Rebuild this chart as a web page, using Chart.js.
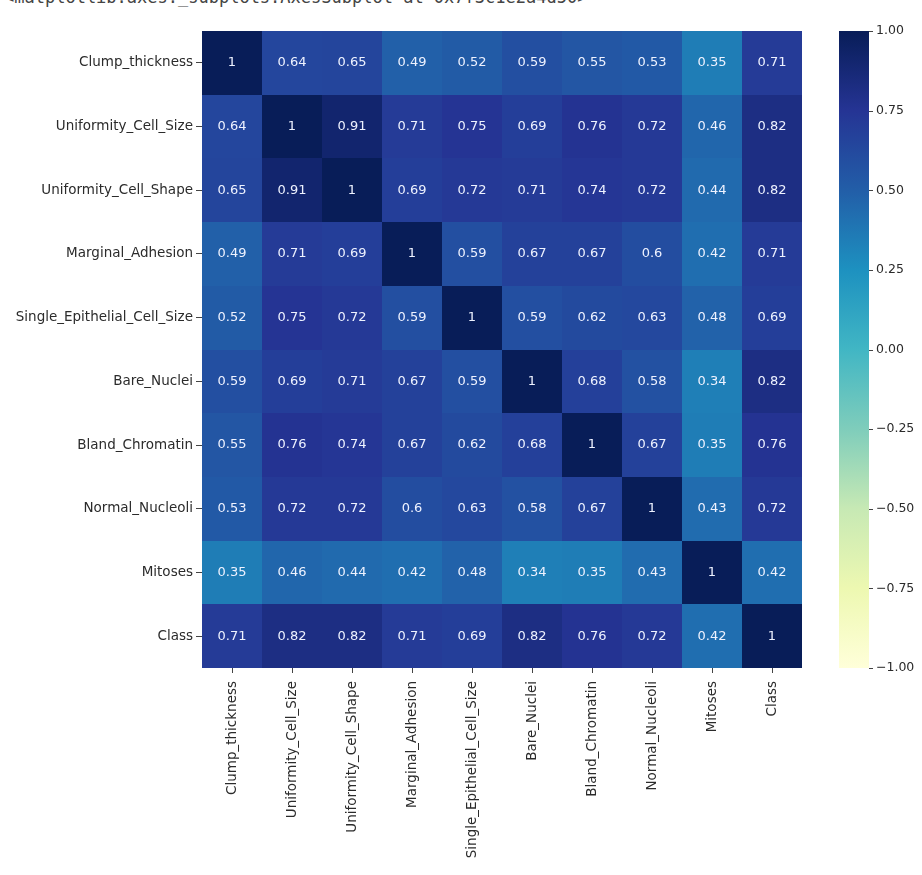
<!DOCTYPE html>
<html>
<head>
<meta charset="utf-8">
<script src="https://cdn.jsdelivr.net/npm/chart.js@4.4.0/dist/chart.umd.min.js"></script>
<style>
  html, body { margin: 0; padding: 0; background: #ffffff; }
  #wrap { position: relative; width: 922px; height: 875px; overflow: hidden; }
  #out {
    position: absolute; left: 4px; top: -13px;
    font: 17px "DejaVu Sans Mono", monospace; color: #444;
    white-space: pre;
  }
  canvas { position: absolute; left: 0; top: 0; }
</style>
</head>
<body>
<div id="wrap">
  <div id="out">&lt;matplotlib.axes._subplots.AxesSubplot at 0x7f3c1e2a4d50&gt;</div>
  <canvas id="heat" width="922" height="875"></canvas>
</div>
<script>
// Feature names (rows and columns of the correlation matrix)
const features = [
  'Clump_thickness', 'Uniformity_Cell_Size', 'Uniformity_Cell_Shape',
  'Marginal_Adhesion', 'Single_Epithelial_Cell_Size', 'Bare_Nuclei',
  'Bland_Chromatin', 'Normal_Nucleoli', 'Mitoses', 'Class'
];

// Pearson correlations, one row per feature
const clumpThickness        = [1, 0.64, 0.65, 0.49, 0.52, 0.59, 0.55, 0.53, 0.35, 0.71];
const uniformityCellSize    = [0.64, 1, 0.91, 0.71, 0.75, 0.69, 0.76, 0.72, 0.46, 0.82];
const uniformityCellShape   = [0.65, 0.91, 1, 0.69, 0.72, 0.71, 0.74, 0.72, 0.44, 0.82];
const marginalAdhesion      = [0.49, 0.71, 0.69, 1, 0.59, 0.67, 0.67, 0.6, 0.42, 0.71];
const singleEpithelialSize  = [0.52, 0.75, 0.72, 0.59, 1, 0.59, 0.62, 0.63, 0.48, 0.69];
const bareNuclei            = [0.59, 0.69, 0.71, 0.67, 0.59, 1, 0.68, 0.58, 0.34, 0.82];
const blandChromatin        = [0.55, 0.76, 0.74, 0.67, 0.62, 0.68, 1, 0.67, 0.35, 0.76];
const normalNucleoli        = [0.53, 0.72, 0.72, 0.6, 0.63, 0.58, 0.67, 1, 0.43, 0.72];
const mitoses               = [0.35, 0.46, 0.44, 0.42, 0.48, 0.34, 0.35, 0.43, 1, 0.42];
const classCorr             = [0.71, 0.82, 0.82, 0.71, 0.69, 0.82, 0.76, 0.72, 0.42, 1];

const corrRows = [
  clumpThickness, uniformityCellSize, uniformityCellShape, marginalAdhesion,
  singleEpithelialSize, bareNuclei, blandChromatin, normalNucleoli, mitoses, classCorr
];

// Colour bar range and tick values
const colorMin = -1;
const colorMax = 1;
const colorbarTicks = [-1, -0.75, -0.5, -0.25, 0, 0.25, 0.5, 0.75, 1];

// YlGnBu colour map stops
const YLGNBU = ['#ffffd9', '#edf8b1', '#c7e9b4', '#7fcdbb', '#41b6c4',
                '#1d91c0', '#225ea8', '#253494', '#081d58'];

function hexToRgb(h) {
  const n = parseInt(h.slice(1), 16);
  return [(n >> 16) & 255, (n >> 8) & 255, n & 255];
}
const YLGNBU_RGB = YLGNBU.map(hexToRgb);

function colorFor(v) {
  let t = (v - colorMin) / (colorMax - colorMin);
  t = Math.max(0, Math.min(1, t));
  const pos = t * (YLGNBU_RGB.length - 1);
  const i = Math.min(Math.floor(pos), YLGNBU_RGB.length - 2);
  const f = pos - i;
  const a = YLGNBU_RGB[i], b = YLGNBU_RGB[i + 1];
  const c = a.map((ch, k) => Math.round(ch + (b[k] - ch) * f));
  return `rgb(${c[0]},${c[1]},${c[2]})`;
}

// Two significant digits, like a '.2g' format
function fmt2g(v) {
  return String(parseFloat(v.toPrecision(2)));
}

function fmtTick(v) {
  const s = Math.abs(v).toFixed(2);
  return v < 0 ? '\u2212' + s : s;
}

// One point per cell: column feature on x, row feature on y
const cells = [];
corrRows.forEach((row, i) => {
  row.forEach((v, j) => {
    cells.push({ x: features[j], y: features[i], v: v });
  });
});

const LABEL_FONT = { family: '"DejaVu Sans", sans-serif', size: 13.5 };
const LABEL_COLOR = '#2b2b2b';

// Scales keep their fixed sizes and do not reserve extra room for label overhang
function fixedBox(w, h) {
  return s => {
    if (w !== null) s.width = w;
    if (h !== null) s.height = h;
    s.paddingTop = 0; s.paddingBottom = 0;
    s.paddingLeft = 0; s.paddingRight = 0;
  };
}

// Draws each cell as a filled rectangle centred on its point, plus its value
const heatmapCells = {
  id: 'heatmapCells',
  beforeDatasetsDraw(chart) {
    const { ctx, scales: { x, y } } = chart;
    const meta = chart.getDatasetMeta(0);
    const data = chart.data.datasets[0].data;
    const halfW = Math.abs(x.getPixelForValue(1) - x.getPixelForValue(0)) / 2;
    const halfH = Math.abs(y.getPixelForValue(1) - y.getPixelForValue(0)) / 2;
    ctx.save();
    meta.data.forEach((pt, k) => {
      const l = Math.round(pt.x - halfW), r = Math.round(pt.x + halfW);
      const t = Math.round(pt.y - halfH), b = Math.round(pt.y + halfH);
      ctx.fillStyle = colorFor(data[k].v);
      ctx.fillRect(l, t, r - l, b - t);
    });
    ctx.restore();
  },
  afterDatasetsDraw(chart) {
    const { ctx } = chart;
    const meta = chart.getDatasetMeta(0);
    const data = chart.data.datasets[0].data;
    ctx.save();
    ctx.fillStyle = '#eef2ff';
    ctx.font = '13px "DejaVu Sans", sans-serif';
    ctx.textAlign = 'center';
    ctx.textBaseline = 'middle';
    meta.data.forEach((pt, k) => {
      ctx.fillText(fmt2g(data[k].v), pt.x, pt.y);
    });
    ctx.restore();
  }
};

// Draws the colour bar alongside the 'cb' scale
const colorBar = {
  id: 'colorBar',
  afterDraw(chart) {
    const { ctx } = chart;
    const cb = chart.scales.cb;
    const top = cb.getPixelForValue(colorMax);
    const bottom = cb.getPixelForValue(colorMin);
    const x0 = cb.left + 37;
    const barW = 30;
    const grad = ctx.createLinearGradient(0, bottom, 0, top);
    YLGNBU.forEach((c, i) => grad.addColorStop(i / (YLGNBU.length - 1), c));
    ctx.save();
    ctx.fillStyle = grad;
    ctx.fillRect(x0, top, barW, bottom - top);
    ctx.strokeStyle = '#444';
    ctx.lineWidth = 1;
    colorbarTicks.forEach(v => {
      const yy = Math.round(cb.getPixelForValue(v)) + 0.5;
      ctx.beginPath();
      ctx.moveTo(x0 + barW, yy);
      ctx.lineTo(x0 + barW + 4, yy);
      ctx.stroke();
    });
    ctx.restore();
  }
};

new Chart(document.getElementById('heat'), {
  type: 'scatter',
  data: {
    datasets: [{
      data: cells,
      pointRadius: 0,
      pointHoverRadius: 0,
      pointHitRadius: 0
    }]
  },
  options: {
    responsive: false,
    animation: false,
    events: [],
    layout: { padding: { top: 31, left: 0, right: 0, bottom: 0 } },
    plugins: {
      legend: { display: false },
      tooltip: { enabled: false }
    },
    scales: {
      x: {
        type: 'category',
        labels: features,
        position: 'bottom',
        offset: true,
        border: { display: false },
        grid: {
          display: true, offset: false, drawOnChartArea: false,
          drawTicks: true, tickLength: 5, color: '#444'
        },
        ticks: {
          autoSkip: false, minRotation: 90, maxRotation: 90,
          padding: 8, color: LABEL_COLOR, font: LABEL_FONT
        },
        afterFit: fixedBox(null, 207)
      },
      y: {
        type: 'category',
        labels: features,
        position: 'left',
        offset: true,
        border: { display: false },
        grid: {
          display: true, offset: false, drawOnChartArea: false,
          drawTicks: true, tickLength: 6, color: '#444'
        },
        ticks: {
          autoSkip: false, padding: 3, color: LABEL_COLOR, font: LABEL_FONT
        },
        afterFit: fixedBox(202, null)
      },
      cb: {
        type: 'linear',
        position: 'right',
        min: colorMin,
        max: colorMax,
        border: { display: false },
        grid: { display: false, drawTicks: false },
        ticks: {
          stepSize: 0.25,
          padding: 74,
          color: LABEL_COLOR,
          font: { family: '"DejaVu Sans", sans-serif', size: 12.5 },
          callback: v => fmtTick(v)
        },
        afterFit: fixedBox(120, null)
      }
    }
  },
  plugins: [heatmapCells, colorBar]
});
</script>
</body>
</html>
